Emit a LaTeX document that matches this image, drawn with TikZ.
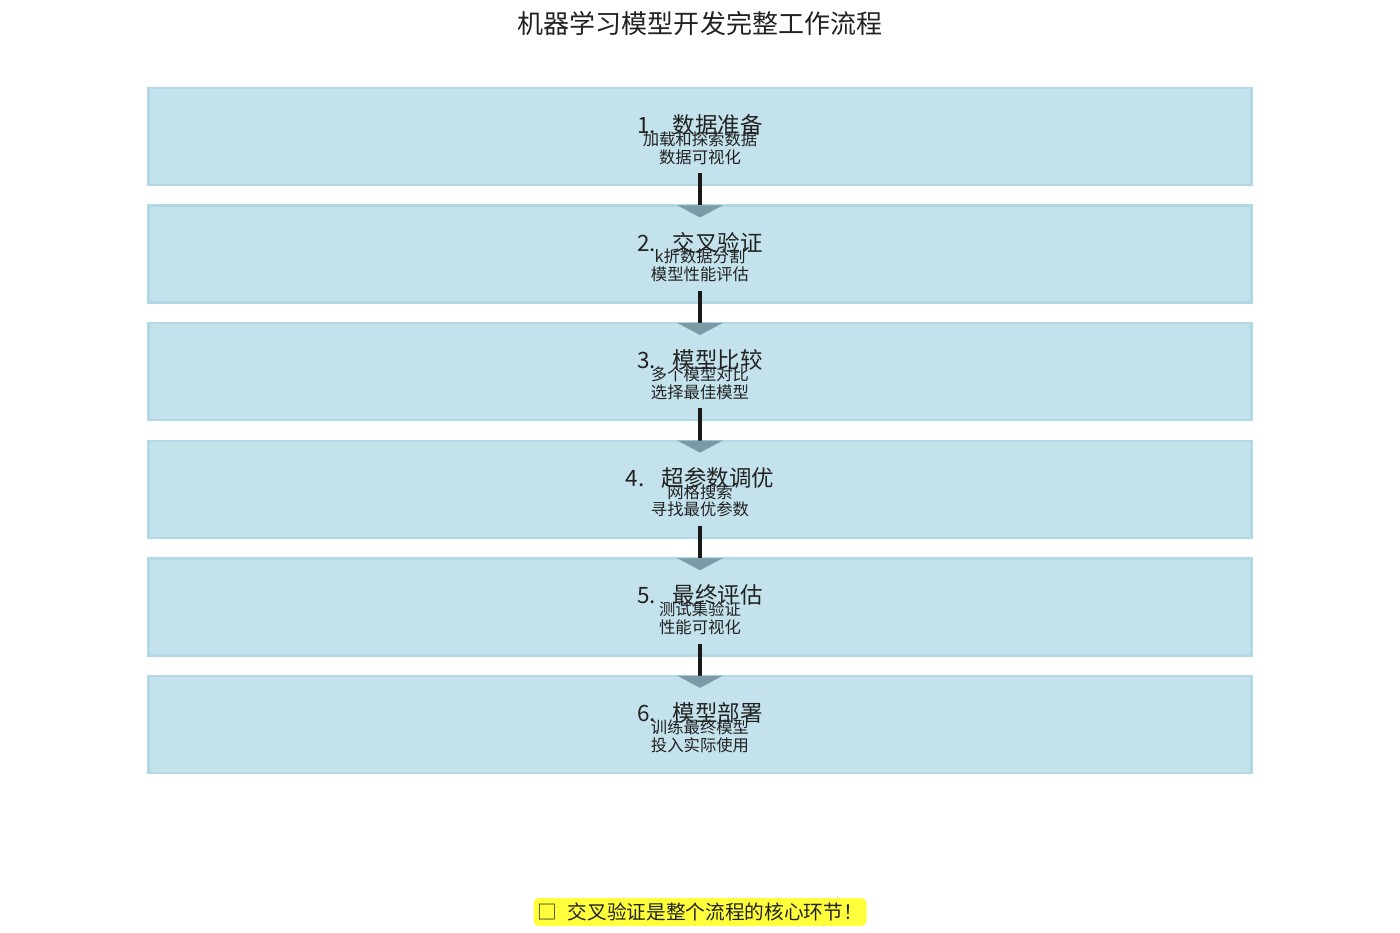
\documentclass[tikz,border=0pt]{standalone}
\usepackage{fontspec}
\setmainfont{Noto Sans CJK SC}
\usetikzlibrary{arrows.meta}

\definecolor{stepfill}{RGB}{195,226,236}
\definecolor{stepline}{RGB}{178,216,230}
\definecolor{tipgray}{RGB}{122,154,166}
\definecolor{notefill}{RGB}{255,255,60}
\definecolor{inkgray}{RGB}{34,34,34}

\def \boxTop {-2.73}
\def \boxGap {2.352}

\begin{document}
\begin{tikzpicture}[
  stepbox/.style={draw=stepline, fill=stepfill, line width=1.4pt,
    minimum width=22.06cm, minimum height=1.94cm, inner sep=0pt},
  steptitle/.style={font=\fontsize{12.8}{14}\selectfont, text=inkgray},
  stepnote/.style={font=\fontsize{9.3}{10.2}\selectfont, align=center, text=inkgray},
  flow/.style={line width=2pt, draw=black!90,
    -{Triangle[width=0.9cm, length=0.24cm, line width=0.1pt, fill=tipgray, color=tipgray]},
    shorten <=-0.26cm, shorten >=-0.26cm}
]
   \useasboundingbox (0,0) rectangle (28,-18.66);

   \node[font=\fontsize{14.8}{17}\selectfont, text=inkgray] (title) at (14,-0.48) {机器学习模型开发完整工作流程};

   % steps
   \foreach \i/\name/\da/\db in {1/数据准备/加载和探索数据/数据可视化,
                                 2/交叉验证/k折数据分割/模型性能评估,
                                 3/模型比较/多个模型对比/选择最佳模型,
                                 4/超参数调优/网格搜索/寻找最优参数,
                                 5/最终评估/测试集验证/性能可视化,
                                 6/模型部署/训练最终模型/投入实际使用} {
      \node[stepbox] (s\i) at (14, {\boxTop - (\i-1)*\boxGap}) {};
      \node[steptitle] (t\i) at ([yshift=0.23cm]s\i.center) {\i.\hspace{0.75em}\name};
      \node[stepnote] (d\i) at ([yshift=-0.23cm]s\i.center) {\da\\\db};
   }

   \foreach \i [evaluate=\i as \j using int(\i+1)] in {1,...,5}
      \draw[flow] (s\i.south) -- (s\j.north);

   \node[fill=notefill, rounded corners=0.1cm, minimum width=6.66cm, minimum height=0.56cm,
         inner sep=0pt, font=\fontsize{11.2}{12}\selectfont, text=inkgray] (note) at (14,-18.24)
         {□\hspace{0.55em}交叉验证是整个流程的核心环节！};
\end{tikzpicture}
\end{document}
